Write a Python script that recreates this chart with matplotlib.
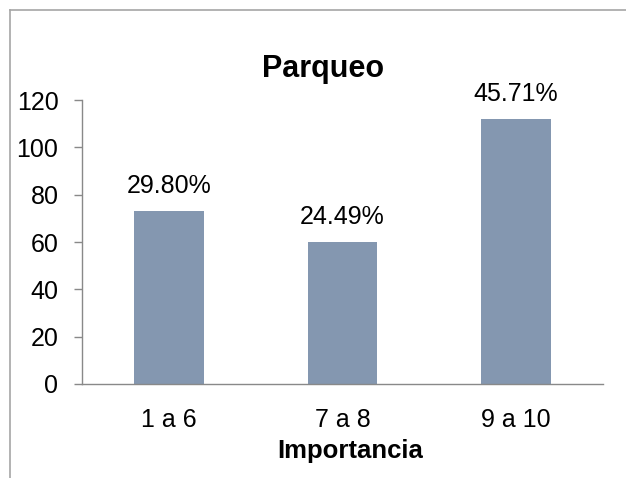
import matplotlib.pyplot as plt
from matplotlib.lines import Line2D

categories = ["1 a 6", "7 a 8", "9 a 10"]
counts = [73, 60, 112]
percent_labels = ["29.80%", "24.49%", "45.71%"]
y_ticks = [0, 20, 40, 60, 80, 100, 120]

plt.rcParams["font.family"] = ["Liberation Sans", "DejaVu Sans"]

DPI = 100
fig = plt.figure(figsize=(6.26, 4.78), dpi=DPI)
ax = fig.add_axes([0.131, 0.1967, 0.832, 0.594])

axis_gray = "#898989"
bar_color = "#8497b0"
label_size = 18

x = list(range(len(categories)))
bars = ax.bar(x, counts, width=0.40, color=bar_color, zorder=2)

for rect, label in zip(bars, percent_labels):
    ax.annotate(label, (rect.get_x() + rect.get_width() / 2, rect.get_height()),
                xytext=(0, 13), textcoords="offset points",
                ha="center", va="baseline", fontsize=label_size)

ax.set_xlim(-0.5, 2.5)
ax.set_ylim(0, 120)
ax.set_xticks(x)
ax.set_xticklabels(categories)
ax.set_yticks(y_ticks)

for side in ["top", "right"]:
    ax.spines[side].set_visible(False)
for side in ["left", "bottom"]:
    ax.spines[side].set_color(axis_gray)
    ax.spines[side].set_linewidth(1.0)

ax.tick_params(axis="y", length=6, color=axis_gray, width=1.0, pad=11, labelsize=label_size)
ax.tick_params(axis="x", length=0, pad=17, labelsize=label_size)

ax.set_title("Parqueo", fontsize=22, fontweight="bold", pad=16.5, x=0.4635)
ax.set_xlabel("Importancia", fontsize=18.5, fontweight="bold")
ax.xaxis.set_label_coords(0.514, -0.261)
ax.xaxis.label.set_verticalalignment("baseline")

# chart frame, only top and left edges are inside the canvas
frame_color = "#a6a6a6"
fig.add_artist(Line2D([10 / 626, 1.0], [1 - 10 / 478, 1 - 10 / 478],
                      transform=fig.transFigure, color=frame_color, lw=1.2))
fig.add_artist(Line2D([10 / 626, 10 / 626], [0.0, 1 - 10 / 478],
                      transform=fig.transFigure, color=frame_color, lw=1.2))

fig.savefig("out.png", dpi=DPI)
